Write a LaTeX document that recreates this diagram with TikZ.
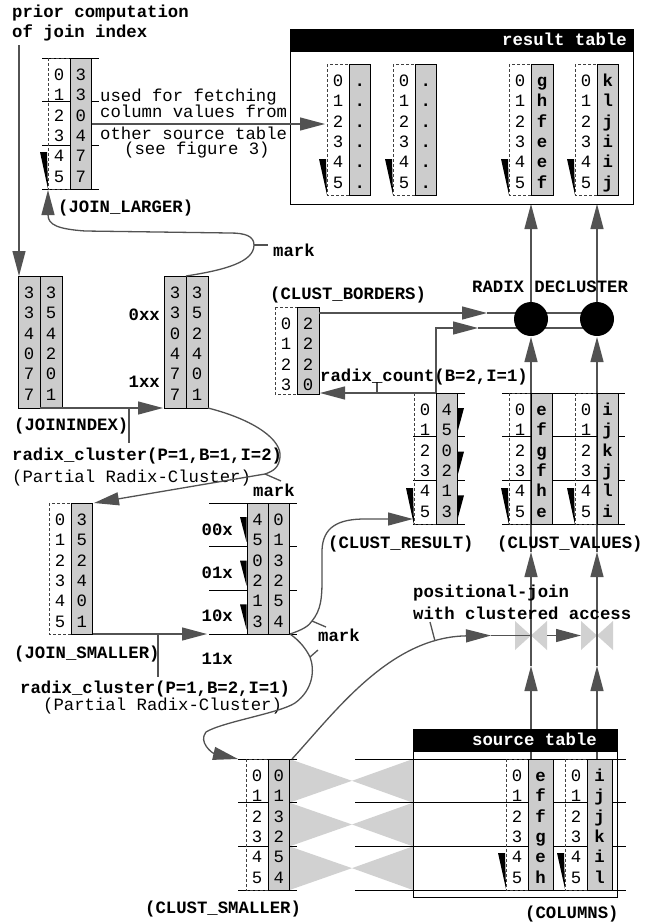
\documentclass[tikz,border=0pt]{standalone}
\usepackage{fontspec}
\setmainfont{Liberation Mono}
\usetikzlibrary{arrows.meta}

\definecolor{linegray}{gray}{0.32}
\definecolor{colgray}{gray}{0.8}
\definecolor{tiegray}{gray}{0.82}

\tikzset{
  cell/.style={inner sep=0pt, anchor=base},
  lbl/.style={inner sep=0pt, font=\bfseries, anchor=base west},
  txt/.style={inner sep=0pt, anchor=base west},
  conn/.style={draw=linegray, line width=1.3pt},
  arr/.style={conn, -{Triangle[length=25pt,width=13pt]}},
  greycol/.style={draw=black, line width=0.9pt, fill=colgray},
  idxcol/.style={draw=black!75, line width=0.9pt, dash pattern=on 3pt off 2pt},
  segline/.style={draw=black, line width=1pt},
}

\begin{document}
\fontsize{17.3}{20.6}\selectfont
\begin{tikzpicture}[x=1pt, y=-1pt]
  \useasboundingbox (0,0) rectangle (657,924);

  % ties between clustered and source positions
  \foreach \k in {0,1,2} {
    \fill[tiegray] (289.5,759+43.67*\k) -- (352,780.8+43.67*\k) -- (289.5,802.7+43.67*\k) -- cycle;
    \fill[tiegray] (413,759+43.67*\k) -- (352,780.8+43.67*\k) -- (413,802.7+43.67*\k) -- cycle;
  }
  % join symbols
  \foreach \nm/\x in {pja/531, pjb/597} {
    \fill[tiegray] (\x-16,621) -- (\x,635.5) -- (\x-16,650) -- cycle;
    \fill[tiegray] (\x+16,621) -- (\x,635.5) -- (\x+16,650) -- cycle;
    \coordinate (\nm) at (\x,635.5);
  }

  % vertical flows
  \foreach \nm/\x in {a/531, b/597} {
    \coordinate (src\nm) at (\x,759);
    \coordinate (up\nm) at (\x,666);
    \coordinate (val\nm) at (\x,552);
    \coordinate (dcin\nm) at (\x,337);
    \coordinate (dcout\nm) at (\x,302);
    \coordinate (res\nm) at (\x,204);
    \draw[arr] (src\nm) -- (up\nm);
    \draw[arr] (up\nm) -- (val\nm);
    \draw[arr] (val\nm) -- (dcin\nm);
    \draw[arr] (dcout\nm) -- (res\nm);
  }

  % tables
  \draw[line width=1pt] (290,29) rectangle (633,204);
  \fill (290,29) rectangle (633,52);
  \node[lbl, text=white, anchor=base east] (restab) at (627,45) {result table};
  \draw[line width=1pt] (413,729) rectangle (617,897);
  \fill (413,729) rectangle (617,752);
  \node[lbl, text=white, anchor=base east] (srctab) at (597,745) {source table};

  % segment lines
  \foreach \k in {0,...,3} {
    \draw[segline] (42,58+43.67*\k) -- (99,58+43.67*\k);
    \draw[segline] (209,503+43.67*\k) -- (297,503+43.67*\k);
    \draw[segline] (413,393+43.67*\k) -- (465,393+43.67*\k);
    \draw[segline] (502,393+43.67*\k) -- (625,393+43.67*\k);
    \draw[segline] (238,759+43.67*\k) -- (297,759+43.67*\k);
    \draw[segline] (355,759+43.67*\k) -- (626,759+43.67*\k);
  }

  % columns with numbers
  \foreach \nm/\xd/\yt/\vals in {jl/48/58/{3,3,0,4,7,7}, js/49/503/{3,5,2,4,0,1},
      cs/246/759/{0,1,3,2,5,4}, cr/414/393/{4,5,0,2,1,3}} {
    \draw[idxcol] (\xd,\yt) rectangle ++(22,131);
    \draw[greycol] (\xd+22,\yt) rectangle ++(21.5,131);
    \foreach \v [count=\i from 0] in \vals {
      \node[cell] (\nm i\i) at (\xd+11,\yt+22.5+20.3*\i) {\i};
      \node[cell] (\nm v\i) at (\xd+32.8,\yt+22.5+20.3*\i) {\v};
    }
  }
  % columns with values
  \foreach \nm/\xd/\yt/\w/\vals in {ra/327/64/21.5/{.,.,.,.,.,.}, rb/393/64/21.5/{.,.,.,.,.,.},
      rc/509/64/22/{g,h,f,e,e,f}, rd/575/64/21.5/{k,l,j,i,i,j},
      va/509/393/21/{e,f,g,f,h,e}, vb/575/393/21/{i,j,k,j,l,i},
      sa/506/759/25/{e,f,f,g,e,h}, sb/565/759/25/{i,j,j,k,i,l}} {
    \draw[idxcol] (\xd,\yt) rectangle ++(22,131);
    \draw[greycol] (\xd+22,\yt) rectangle ++(\w,131);
    \foreach \v [count=\i from 0] in \vals {
      \node[cell] (\nm i\i) at (\xd+11,\yt+22.5+20.3*\i) {\i};
      \node[cell, font=\bfseries] (\nm v\i) at (\xd+22+\w/2,\yt+22.5+20.3*\i) {\v};
    }
  }
  % join index columns
  \foreach \nm/\xg/\vals in {ja/18/{3,3,4,0,7,7}, jb/40/{3,5,4,2,0,1},
      ka/164/{3,3,0,4,7,7}, kb/186/{3,5,2,4,0,1}} {
    \draw[greycol] (\xg,276) rectangle ++(22,132);
    \foreach \v [count=\i from 0] in \vals
      \node[cell] (\nm\i) at (\xg+11,298.5+20.3*\i) {\v};
  }
  % clustered join_smaller
  \foreach \nm/\xg/\vals in {la/247/{4,5,0,2,1,3}, lb/268/{0,1,3,2,5,4}} {
    \draw[greycol] (\xg,503) rectangle ++(21,131);
    \foreach \v [count=\i from 0] in \vals
      \node[cell] (\nm\i) at (\xg+10.5,525.5+20.3*\i) {\v};
  }
  % cluster borders
  \draw[idxcol] (275,307) rectangle ++(22,87);
  \draw[greycol] (297,307) rectangle ++(22,87);
  \foreach \v [count=\i from 0] in {2,2,2,0} {
    \node[cell] (cbi\i) at (286,329.5+20.3*\i) {\i};
    \node[cell] (cbv\i) at (308,329.5+20.3*\i) {\v};
  }

  % order wedges
  \foreach \xd in {327,393,509,575}
    \fill (\xd-8,159) -- (\xd-1,159) -- (\xd,195) -- cycle;
  \foreach \xd in {414,509,575}
    \fill (\xd-8,488) -- (\xd-1,488) -- (\xd,525) -- cycle;
  \foreach \xd in {506,565}
    \fill (\xd-8,853) -- (\xd-1,853) -- (\xd,889) -- cycle;
  \fill (40,152) -- (47,152) -- (48,189) -- cycle;
  \foreach \k in {0,1,2} {
    \fill (240,517+43.67*\k) -- (246.5,517+43.67*\k) -- (246.5,542+43.67*\k) -- cycle;
    \fill (457.5,408+43.67*\k) -- (464,408+43.67*\k) -- (457.5,432+43.67*\k) -- cycle;
  }

  % radix decluster
  \coordinate (cb-out) at (319,313);
  \coordinate (dc-in1) at (487,313);
  \coordinate (cr-up) at (436,393);
  \coordinate (dc-in2) at (478,328);
  \draw[arr] (cb-out) -- (dc-in1);
  \draw[conn] (dc-in1) -- (597,313);
  \draw[arr] (cr-up) -- (436,328) -- (dc-in2);
  \draw[conn] (dc-in2) -- (597,328);
  \fill (531,319) circle (17);
  \fill (597,319) circle (17);
  \node[lbl] (decl) at (472,292) {RADIX DECLUSTER};

  % radix count
  \coordinate (cb-in) at (320,393);
  \draw[arr] (cr-up) -- (cb-in);
  \draw[conn] (377,393) -- (377,382);
  \node[lbl] (rcount) at (320,381) {radix\_count(B=2,I=1)};
  \node[lbl] (cblbl) at (270,299) {(CLUST\_BORDERS)};

  % join index input
  \node[lbl] (prior) at (12,17) {prior computation};
  \node[lbl] (joinidx) at (12,37) {of join index};
  \coordinate (ji-in) at (19,45);
  \coordinate (ja-top) at (19,276);
  \draw[arr] (ji-in) -- (ja-top);
  \node[lbl] (jilbl) at (14,430) {(JOININDEX)};
  \node[lbl, anchor=base east] (zxx) at (160,320) {0xx};
  \node[lbl, anchor=base east] (oxx) at (160,387) {1xx};

  % first radix cluster
  \coordinate (ji-out) at (40,408);
  \coordinate (ka-in) at (163,408);
  \draw[arr] (ji-out) -- (ka-in);
  \draw[conn] (129,408) -- (129,443);
  \node[lbl] (rc1) at (12,460) {radix\_cluster(P=1,B=1,I=2)};
  \node[txt] (prc1) at (12,482) {(Partial Radix-Cluster)};

  % larger side
  \coordinate (kb-top) at (186,276);
  \coordinate (jl-bot) at (48,190);
  \coordinate (mk1) at (254,245);
  \draw[arr] (kb-top) .. controls (225,270) and (254,262) .. (mk1)
    .. controls (254,236) and (245,233) .. (230,233) -- (85,231)
    .. controls (58,229) and (48,225) .. (jl-bot);
  \draw[conn] (mk1) -- (268,245);
  \node[lbl] (mark1) at (273,256) {mark};
  \node[lbl] (jllbl) at (58,212) {(JOIN\_LARGER)};
  \coordinate (jl-out) at (91.5,124);
  \coordinate (ra-in) at (325,124);
  \draw[arr] (jl-out) -- (ra-in);
  \node[txt] (use1) at (100,101) {used for fetching};
  \node[txt] (use2) at (100,117) {column values from};
  \node[txt] (use3) at (100,139) {other source table};
  \node[txt] (use4) at (124,154) {(see figure 3)};

  % smaller side
  \coordinate (kb-se) at (208,408);
  \coordinate (js-ne) at (94,503);
  \coordinate (mk2) at (265,474);
  \draw[arr] (kb-se) .. controls (255,420) and (282,440) .. (280,457)
    .. controls (279,467) and (274,471) .. (mk2) -- (js-ne);
  \draw[conn] (mk2) -- (281,481);
  \node[lbl] (mark2) at (253,496) {mark};
  \node[lbl] (jslbl) at (14,658) {(JOIN\_SMALLER)};

  % second radix cluster
  \coordinate (js-out) at (92.5,634);
  \coordinate (cl-in) at (207,634);
  \draw[arr] (js-out) -- (cl-in);
  \draw[conn] (158,634) -- (158,677);
  \node[lbl] (rc2) at (20,693) {radix\_cluster(P=1,B=2,I=1)};
  \node[txt] (prc2) at (43,710) {(Partial Radix-Cluster)};
  \foreach \t [count=\k from 0] in {00x,01x,10x,11x}
    \node[lbl, anchor=base east] (bits\k) at (233,535+43.3*\k) {\t};

  % clustered results
  \coordinate (cl-out) at (290,634);
  \coordinate (cr-in) at (413,519);
  \coordinate (cs-in) at (238,759);
  \coordinate (mk3) at (312,621);
  \coordinate (mk4) at (310,657);
  \draw[arr] (cl-out) .. controls (302,630) and (309,626) .. (mk3)
    .. controls (321,610) and (322,598) .. (322,580) -- (322,550)
    .. controls (323,527) and (338,519) .. (365,519) -- (cr-in);
  \draw[arr] (cl-out) .. controls (300,641) and (306,649) .. (mk4)
    .. controls (315,670) and (313,690) .. (295,703)
    .. controls (280,713) and (222,722) .. (206,732)
    .. controls (198,742) and (212,753) .. (cs-in);
  \draw[conn] (mk3) -- (326,627);
  \draw[conn] (mk4) -- (318,650);
  \node[lbl] (mark4) at (318,641) {mark};
  \node[lbl] (crlbl) at (328,548) {(CLUST\_RESULT)};
  \node[lbl] (cvlbl) at (497,548) {(CLUST\_VALUES)};

  % positional join
  \coordinate (cs-ne) at (292,759);
  \coordinate (pj-in) at (491,635.5);
  \coordinate (pj-tick) at (435,641);
  \draw[arr] (cs-ne) .. controls (335,712) and (390,637) .. (pj-in);
  \draw[conn] (pj-in) -- (pja);
  \draw[arr] ([xshift=16pt]pja) -- ([xshift=-16pt]pjb);
  \draw[conn] (pj-tick) -- (430,622);
  \node[lbl] (pjlbl) at (413,597) {positional-join};
  \node[lbl] (pjlbl2) at (413,619) {with clustered access};
  \node[lbl] (cslbl) at (145,913) {(CLUST\_SMALLER)};
  \node[lbl] (collbl) at (525,918) {(COLUMNS)};
\end{tikzpicture}
\end{document}
